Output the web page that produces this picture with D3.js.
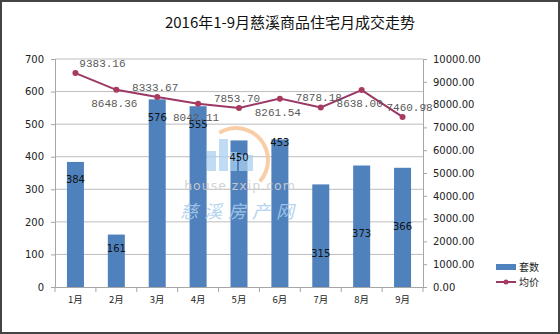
<!DOCTYPE html>
<html><head><meta charset="utf-8">
<script src="https://cdn.jsdelivr.net/npm/d3@7"></script>
<style>body{margin:0;background:#fff}svg{display:block}</style>
</head><body>
<script>
const months = ["1月","2月","3月","4月","5月","6月","7月","8月","9月"];
const units = [384,161,576,555,450,453,315,373,366];
const prices = [9383.16,8648.36,8333.67,8042.11,7853.70,8261.54,7878.18,8638.00,7460.98];
const leftTicks = [0,100,200,300,400,500,600,700];
const rightTicks = [0,1000,2000,3000,4000,5000,6000,7000,8000,9000,10000];
const seriesNames = ["套数","均价"];
const title = "2016年1-9月慈溪商品住宅月成交走势";
// layout tweaks (label placement)
const barLabelDy = [17,13,18,18,17,3,69,67,58];
const priceLabelPos = ["above","below","above","below","above","below","above","below","above"];

const W=560,H=334;
const svg=d3.select("body").append("svg").attr("width",W).attr("height",H);
svg.append("rect").attr("x",1).attr("y",1).attr("width",W-2).attr("height",H-2).attr("fill","#fff").attr("stroke","#444").attr("stroke-width",2);

const x=d3.scaleBand().domain(months).range([55,423]);
const yL=d3.scaleLinear().domain([0,700]).range([287,59]);
const yR=d3.scaleLinear().domain([0,10000]).range([287,59]);

svg.append("text").attr("x",290).attr("y",28).attr("text-anchor","middle")
  .attr("font-family","Noto Sans CJK SC").attr("font-size",15).attr("fill","#111").text(title);

// gridlines
svg.append("g").selectAll("line").data(leftTicks.filter(d=>d>0)).join("line")
  .attr("x1",55).attr("x2",423).attr("y1",d=>yL(d)).attr("y2",d=>yL(d))
  .attr("stroke","#bdbdbd").attr("stroke-width",1);

// bars
const bw=17;
svg.append("g").selectAll("rect").data(units).join("rect")
  .attr("x",(d,i)=>x(months[i])+x.bandwidth()/2-bw/2).attr("width",bw)
  .attr("y",d=>yL(d)).attr("height",d=>yL(0)-yL(d)).attr("fill","#4f81bd");

// watermark (over bars)
const wm=svg.append("g");
wm.append("path").attr("d",d3.arc()({innerRadius:30,outerRadius:34,startAngle:-0.55,endAngle:2.3}))
  .attr("transform","translate(236,160)").attr("fill","#f8c08f").attr("opacity",0.8);
[[207,151,9,20],[219,139,9,32],[230,152,7,19],[239,155,14,16]].forEach(r=>{
  wm.append("rect").attr("x",r[0]).attr("y",r[1]).attr("width",r[2]).attr("height",r[3])
    .attr("fill","#a9d0f0").attr("opacity",0.75);
});
svg.append("text").attr("x",240).attr("y",190).attr("text-anchor","middle").attr("font-family","DejaVu Sans")
  .attr("font-size",12.5).attr("fill","#cfcfcf").attr("opacity",0.9).attr("letter-spacing",1).text("house.zxip.com");
svg.append("text").attr("x",240).attr("y",218).attr("text-anchor","middle").attr("font-family","Noto Sans CJK SC")
  .attr("font-size",18).attr("fill","#a9cdec").attr("opacity",0.85).attr("font-style","italic").attr("letter-spacing",6).text("慈溪房产网");

svg.append("g").selectAll("text").data(units).join("text")
  .attr("x",(d,i)=>x(months[i])+x.bandwidth()/2).attr("y",(d,i)=>yL(d)+barLabelDy[i]+4)
  .attr("text-anchor","middle").attr("font-family","DejaVu Sans").attr("font-size",10).attr("fill","#111").text(d=>d);

// axes
const gl=svg.append("g").attr("transform","translate(55,0)")
  .call(d3.axisLeft(yL).tickValues(leftTicks).tickSize(4).tickPadding(7));
const gr=svg.append("g").attr("transform","translate(423,0)")
  .call(d3.axisRight(yR).tickValues(rightTicks).tickSize(4).tickPadding(6).tickFormat(d3.format(".2f")));
const gx=svg.append("g").attr("transform","translate(0,287)")
  .call(d3.axisBottom(x).tickSize(0).tickPadding(9));
[gl,gr,gx].forEach(g=>{
  g.select(".domain").attr("stroke","#a6a6a6");
  g.selectAll(".tick line").attr("stroke","#a6a6a6");
  g.selectAll("text").attr("font-family","DejaVu Sans").attr("font-size",10).attr("fill","#222");
});
gx.selectAll("text").attr("font-family","Noto Sans CJK SC").attr("font-size",9.5);
// x category separators
svg.append("g").selectAll("line").data(months.concat(["end"])).join("line")
  .attr("x1",(d,i)=>55+i*x.step()).attr("x2",(d,i)=>55+i*x.step())
  .attr("y1",287).attr("y2",292).attr("stroke","#a6a6a6");

// line
const cx=i=>x(months[i])+x.bandwidth()/2;
svg.append("path").datum(prices).attr("fill","none").attr("stroke","#9b3866").attr("stroke-width",2)
  .attr("d",d3.line().x((d,i)=>cx(i)).y(d=>yR(d)));
svg.append("g").selectAll("circle").data(prices).join("circle")
  .attr("cx",(d,i)=>cx(i)).attr("cy",d=>yR(d)).attr("r",3).attr("fill","#a83a5e");
svg.append("g").selectAll("text").data(prices).join("text")
  .attr("x",(d,i)=>cx(i)+(priceLabelPos[i]==="above"?(i===0?27:-2):-2)+(i===8?9:0))
  .attr("y",(d,i)=>yR(d)+(priceLabelPos[i]==="above"?-6:17))
  .attr("text-anchor","middle").attr("font-family","Liberation Mono").attr("font-size",11)
  .attr("fill","#595959").text(d=>d3.format(".2f")(d));

// legend
svg.append("rect").attr("x",496).attr("y",264).attr("width",20).attr("height",6).attr("fill","#4f81bd");
svg.append("text").attr("x",519).attr("y",271).attr("font-family","Noto Sans CJK SC").attr("font-size",10).attr("fill","#222").text(seriesNames[0]);
svg.append("line").attr("x1",496).attr("x2",516).attr("y1",282).attr("y2",282).attr("stroke","#9b3866").attr("stroke-width",2);
svg.append("circle").attr("cx",506).attr("cy",282).attr("r",2.5).attr("fill","#a83a5e");
svg.append("text").attr("x",519).attr("y",286).attr("font-family","Noto Sans CJK SC").attr("font-size",10).attr("fill","#222").text(seriesNames[1]);
</script>
</body></html>
